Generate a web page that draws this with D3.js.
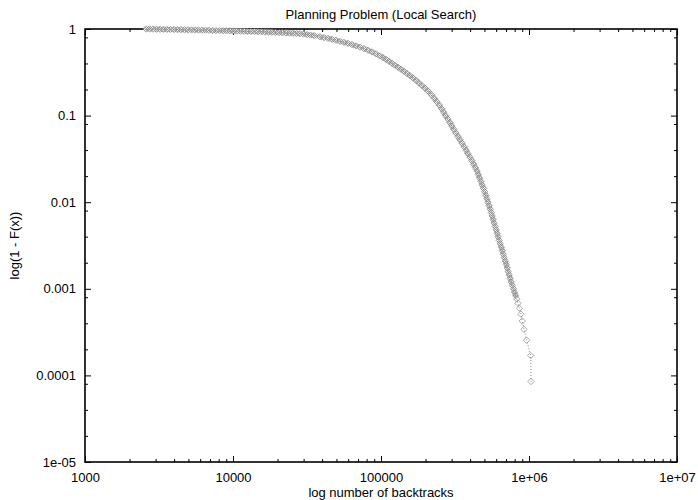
<!DOCTYPE html>
<html>
<head>
<meta charset="utf-8">
<script src="https://cdn.jsdelivr.net/npm/d3@7"></script>
<style>
body { margin: 0; background: #fff; }
svg { display: block; font-family: "Liberation Sans", Arial, Helvetica, sans-serif; }
</style>
</head>
<body>
<div id="chart"></div>
<script>
// axis ticks (log scales, gnuplot style)
let xTicks = [1e3, 1e4, 1e5, 1e6, 1e7];
let xTickLabels = ["1000", "10000", "100000", "1e+06", "1e+07"];
let xMinorSteps = [2, 3, 4, 5, 6, 7, 8, 9];
let yTicks = [1, 0.1, 0.01, 0.001, 0.0001, 0.00001];
let yTickLabels = ["1", "0.1", "0.01", "0.001", "0.0001", "1e-05"];
let yMinorSteps = [2, 4, 8];

// number of backtracks
let backtracks = [
    2584, 2729, 2881, 3042, 3212, 3392, 3582, 3782, 3994, 4217,
    4453, 4702, 4965, 5243, 5536, 5846, 6173, 6519, 6884, 7269,
    7676, 8106, 8559, 9039, 9544, 10080, 10640, 11240, 11870, 12530,
    13230, 13980, 14760, 15580, 16450, 17380, 18350, 19380, 20460, 21610,
    22810, 24090, 25440, 26860, 28360, 29950, 31620, 33390, 35260,
    38700, 41200, 43850, 46660, 49650, 52840, 56230, 59840, 63680, 67770,
    72120, 76740, 81680, 86920, 92510, 98450, 103200, 108100, 113300, 118700,
    124300, 130300, 136500, 143000, 149900, 157000, 164500, 172400, 180700, 189200,
    198300, 207800,
    219000, 229000, 238000, 248000, 257000, 265000, 273000, 283000, 292000, 301000,
    311000, 320000, 331000, 342000, 353000, 364000, 376000, 387000, 400000, 411000,
    423000, 434000, 446000, 454000, 463000, 473000, 482000, 492000, 501000, 511000,
    519000, 528000, 538000, 547000, 556000, 564000, 572000, 581000, 591000, 600000,
    609000, 619000, 629000, 639000, 650000, 660000, 670000, 681000, 692000, 702000,
    713000, 723000, 735000, 746000, 758000, 771000, 785000, 798000, 813000,
    827000, 843000, 861000, 882000, 901000, 925000, 963000, 1027000, 1032000
];

// 1 - F(x) at each of those points
let survival = [
    1.000, 0.999, 0.997, 0.995, 0.992, 0.991, 0.989, 0.987, 0.986, 0.983,
    0.982, 0.979, 0.978, 0.975, 0.974, 0.971, 0.970, 0.967, 0.965, 0.962,
    0.960, 0.958, 0.956, 0.953, 0.951, 0.948, 0.946, 0.943, 0.941, 0.938,
    0.936, 0.934, 0.931, 0.927, 0.923, 0.921, 0.916, 0.912, 0.909, 0.905,
    0.902, 0.897, 0.893, 0.889, 0.883, 0.873, 0.862, 0.851, 0.839,
    0.813, 0.796, 0.779, 0.761, 0.741, 0.721, 0.702, 0.682, 0.661, 0.638,
    0.617, 0.593, 0.569, 0.544, 0.516, 0.488, 0.467, 0.445, 0.423, 0.402,
    0.381, 0.362, 0.343, 0.324, 0.306, 0.289, 0.272, 0.255, 0.238, 0.222,
    0.207, 0.192,
    0.174, 0.158, 0.145, 0.132, 0.120, 0.110, 0.100, 0.0912, 0.0832, 0.0759,
    0.0692, 0.0631, 0.0575, 0.0525, 0.0479, 0.0437, 0.0398, 0.0363, 0.0331, 0.0302,
    0.0275, 0.0251, 0.0229, 0.0209, 0.0191, 0.0174, 0.0158, 0.0145, 0.0132, 0.0120,
    0.0110, 0.0100, 0.00912, 0.00832, 0.00759, 0.00692, 0.00631, 0.00575, 0.00525, 0.00479,
    0.00437, 0.00398, 0.00363, 0.00331, 0.00302, 0.00275, 0.00251, 0.00229, 0.00209, 0.00191,
    0.00174, 0.00158, 0.00145, 0.00132, 0.00120, 0.00110, 0.00100, 0.000912, 0.000832,
    0.000765, 0.00068, 0.000595, 0.00051, 0.000425, 0.00034, 0.000255, 0.00017, 0.000085
];

var width = 698, height = 500;
var margin = {top: 29, right: 21, bottom: 38, left: 85};
var w = width - margin.left - margin.right;
var h = height - margin.top - margin.bottom;

var svg = d3.select("#chart").append("svg")
    .attr("width", width).attr("height", height);

// checker texture for the dense part of the point cloud
var pat = svg.append("defs").append("pattern")
    .attr("id", "dots")
    .attr("patternUnits", "userSpaceOnUse")
    .attr("width", 2).attr("height", 2);
pat.append("rect").attr("width", 2).attr("height", 2).attr("fill", "#f0f0f0");
pat.append("rect").attr("width", 1).attr("height", 1).attr("fill", "#9a9a9a");
pat.append("rect").attr("x", 1).attr("y", 1).attr("width", 1).attr("height", 1).attr("fill", "#b4b4b4");

var g = svg.append("g")
    .attr("transform", "translate(" + margin.left + "," + margin.top + ")");

var x = d3.scaleLog().domain([1e3, 1e7]).range([0, w]);
var y = d3.scaleLog().domain([1e-5, 1]).range([h, 0]);

let xMinor = [];
xTicks.slice(0, -1).forEach(d => xMinorSteps.forEach(k => xMinor.push(d * k)));
let yMinor = [];
yTicks.slice(1).forEach(d => yMinorSteps.forEach(k => yMinor.push(d * k)));

function clean(sel) {
    sel.select(".domain").remove();
    sel.selectAll(".tick line").attr("stroke", "#000");
    sel.selectAll(".tick text").attr("fill", "#000").attr("font-size", 13);
}

// bottom + top
g.append("g").attr("transform", "translate(0," + h + ")")
    .call(d3.axisBottom(x).tickValues(xTicks).tickFormat((d, i) => xTickLabels[i]).tickSize(-6).tickPadding(11))
    .call(clean);
g.append("g").attr("transform", "translate(0," + h + ")")
    .call(d3.axisBottom(x).tickValues(xMinor).tickFormat("").tickSize(-3))
    .call(clean);
g.append("g")
    .call(d3.axisTop(x).tickValues(xTicks).tickFormat("").tickSize(-6))
    .call(clean);
g.append("g")
    .call(d3.axisTop(x).tickValues(xMinor).tickFormat("").tickSize(-3))
    .call(clean);

// left + right
g.append("g")
    .call(d3.axisLeft(y).tickValues(yTicks).tickFormat((d, i) => yTickLabels[i]).tickSize(-6).tickPadding(9))
    .call(clean);
g.append("g")
    .call(d3.axisLeft(y).tickValues(yMinor).tickFormat("").tickSize(-3))
    .call(clean);
g.append("g").attr("transform", "translate(" + w + ",0)")
    .call(d3.axisRight(y).tickValues(yTicks).tickFormat("").tickSize(-6))
    .call(clean);
g.append("g").attr("transform", "translate(" + w + ",0)")
    .call(d3.axisRight(y).tickValues(yMinor).tickFormat("").tickSize(-3))
    .call(clean);

g.append("rect")
    .attr("width", w).attr("height", h)
    .attr("fill", "none").attr("stroke", "#000").attr("stroke-width", 1.6);

var line = d3.line()
    .x((d, i) => x(backtracks[i]))
    .y((d, i) => y(survival[i]));

// textured band where the points sit on top of each other
var bandLine = d3.line()
    .defined((d, i) => survival[i] >= 0.0008)
    .x((d, i) => x(backtracks[i]))
    .y((d, i) => y(survival[i]));
g.append("path")
    .datum(backtracks)
    .attr("d", bandLine)
    .attr("fill", "none")
    .attr("stroke", "url(#dots)")
    .attr("stroke-width", 5)
    .attr("stroke-linecap", "round");

// thin dotted line joining the points
g.append("path")
    .datum(backtracks)
    .attr("d", line)
    .attr("fill", "none")
    .attr("stroke", "#888")
    .attr("stroke-width", 1)
    .attr("stroke-dasharray", "1,2");

// diamond markers
g.selectAll(".pt").data(backtracks).enter()
    .append("path")
    .attr("class", "pt")
    .attr("d", "M0,-3.2L3.2,0L0,3.2L-3.2,0Z")
    .attr("transform", (d, i) => "translate(" + x(d) + "," + y(survival[i]) + ")")
    .attr("fill", "none")
    .attr("stroke", "#888")
    .attr("stroke-width", 0.7);

// titles
svg.append("text")
    .attr("x", margin.left + w / 2).attr("y", 19)
    .attr("text-anchor", "middle").attr("font-size", 13)
    .text("Planning Problem (Local Search)");

svg.append("text")
    .attr("x", margin.left + w / 2).attr("y", 497)
    .attr("text-anchor", "middle").attr("font-size", 13)
    .text("log number of backtracks");

svg.append("text")
    .attr("transform", "translate(19," + (margin.top + h / 2) + ") rotate(-90)")
    .attr("text-anchor", "middle").attr("font-size", 13)
    .text("log(1 - F(x))");
</script>
</body>
</html>
